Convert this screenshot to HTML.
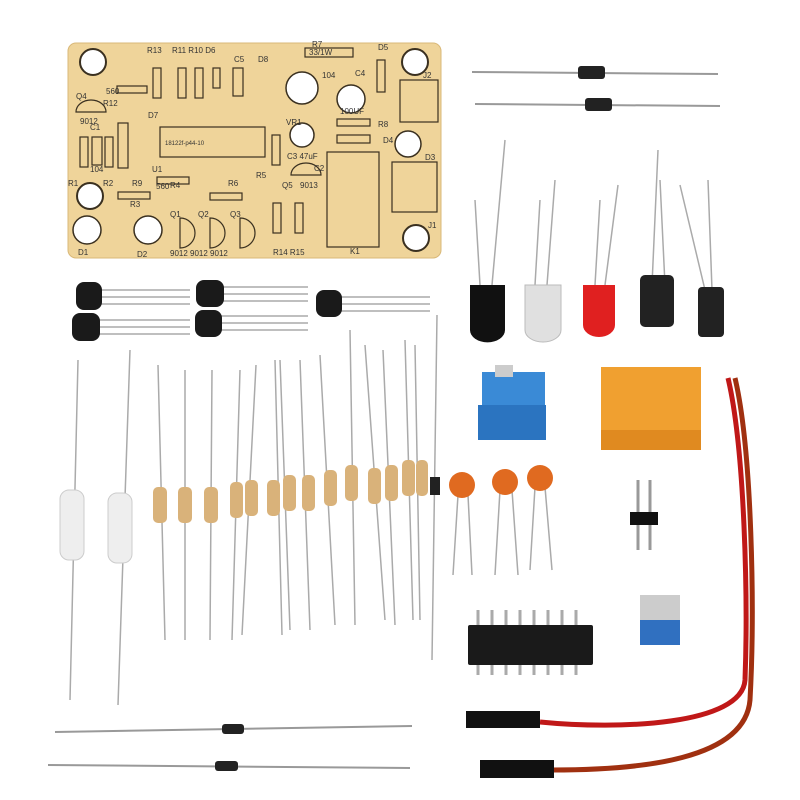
<!DOCTYPE html><html><head><style>body{margin:0;background:#fff}svg{display:block}text{font-family:"Liberation Sans",sans-serif;fill:#333}</style></head><body>
<svg width="800" height="800" viewBox="0 0 800 800">
<!-- PCB -->
<rect x="68" y="43" width="373" height="215" rx="8" fill="#efd49a" stroke="#d9b878"/>
<g fill="#fff" stroke="#3a3020" stroke-width="2">
<circle cx="93" cy="62" r="13"/><circle cx="415" cy="62" r="13"/><circle cx="90" cy="196" r="13"/><circle cx="416" cy="238" r="13"/></g>
<g fill="#fff" stroke="#3a3020" stroke-width="1.5"><circle cx="87" cy="230" r="14"/><circle cx="148" cy="230" r="14"/><circle cx="408" cy="144" r="13"/><circle cx="351" cy="99" r="14"/><circle cx="302" cy="88" r="16"/><circle cx="302" cy="135" r="12"/></g>
<g fill="none" stroke="#3a3020" stroke-width="1.2">
<rect x="160" y="127" width="105" height="30"/><rect x="327" y="152" width="52" height="95"/><rect x="392" y="162" width="45" height="50"/><rect x="400" y="80" width="38" height="42"/>
<rect x="153" y="68" width="8" height="30"/><rect x="178" y="68" width="8" height="30"/><rect x="195" y="68" width="8" height="30"/><rect x="213" y="68" width="7" height="20"/><rect x="233" y="68" width="10" height="28"/>
<rect x="80" y="137" width="8" height="30"/><rect x="92" y="137" width="10" height="28"/><rect x="105" y="137" width="8" height="30"/><rect x="118" y="123" width="10" height="45"/>
<rect x="117" y="86" width="30" height="7"/><rect x="118" y="192" width="32" height="7"/><rect x="157" y="177" width="32" height="7"/><rect x="210" y="193" width="32" height="7"/><rect x="305" y="48" width="48" height="9"/><rect x="337" y="119" width="33" height="7"/><rect x="337" y="135" width="33" height="8"/>
<rect x="273" y="203" width="8" height="30"/><rect x="295" y="203" width="8" height="30"/><rect x="272" y="135" width="8" height="30"/><rect x="377" y="60" width="8" height="32"/>
<path d="M180 218a12 12 0 0 1 0 30z M210 218a12 12 0 0 1 0 30z M240 218a12 12 0 0 1 0 30z M76 112a15 12 0 0 1 30 0z M291 175a15 12 0 0 1 30 0z"/></g>
<g font-size="8"><text x="147" y="53">R13</text><text x="172" y="53">R11 R10 D6</text><text x="234" y="62">C5</text><text x="258" y="62">D8</text><text x="312" y="47">R7</text><text x="309" y="55">33/1W</text><text x="378" y="50">D5</text><text x="423" y="78">J2</text><text x="322" y="78">104</text><text x="355" y="76">C4</text><text x="340" y="114">100UF</text><text x="76" y="99">Q4</text><text x="106" y="94">560</text><text x="103" y="106">R12</text><text x="80" y="124">9012</text><text x="148" y="118">D7</text><text x="90" y="130">C1</text><text x="90" y="172">104</text><text x="68" y="186">R1</text><text x="103" y="186">R2</text><text x="132" y="186">R9</text><text x="130" y="207">R3</text><text x="152" y="172">U1</text><text x="165" y="145" font-size="6">18122f-p44-10</text><text x="156" y="189">560</text><text x="170" y="188">R4</text><text x="228" y="186">R6</text><text x="256" y="178">R5</text><text x="287" y="159">C3 47uF</text><text x="282" y="188">Q5</text><text x="300" y="188">9013</text><text x="286" y="125">VR1</text><text x="378" y="127">R8</text><text x="383" y="143">D4</text><text x="425" y="160">D3</text><text x="428" y="228">J1</text><text x="350" y="254">K1</text><text x="78" y="255">D1</text><text x="137" y="257">D2</text><text x="170" y="217">Q1</text><text x="198" y="217">Q2</text><text x="230" y="217">Q3</text><text x="170" y="256">9012 9012 9012</text><text x="273" y="255">R14 R15</text><text x="314" y="171">C2</text></g>
<!-- top diodes -->
<g stroke="#999" stroke-width="2"><line x1="472" y1="72" x2="718" y2="74"/><line x1="475" y1="104" x2="720" y2="106"/></g>
<rect x="578" y="66" width="27" height="13" rx="3" fill="#222"/><rect x="585" y="98" width="27" height="13" rx="3" fill="#222"/>
<!-- transistors -->
<g stroke="#aaa" stroke-width="1.5"><path d="M100 290H190M100 297H190M100 304H190M97 320H190M97 327H190M97 334H190M222 287H308M222 294H308M222 301H308M220 316H308M220 323H308M220 330H308M340 297H430M340 304H430M340 311H430"/></g>
<g fill="#1a1a1a"><rect x="76" y="282" width="26" height="28" rx="8"/><rect x="72" y="313" width="28" height="28" rx="8"/><rect x="196" y="280" width="28" height="27" rx="8"/><rect x="195" y="310" width="27" height="27" rx="8"/><rect x="316" y="290" width="26" height="27" rx="8"/></g>
<!-- LEDs and caps -->
<g stroke="#aaa" stroke-width="1.5"><path d="M480 285L475 200M492 285L505 140M535 285L540 200M547 285L555 180M595 285L600 200M605 285L618 185M652 285L658 150M665 285L660 180M705 290L680 185M712 290L708 180"/></g>
<path d="M470 285h35v45a17 12 0 0 1-35 0z" fill="#111"/><path d="M525 285h36v45a18 12 0 0 1-36 0z" fill="#e0e0e0" stroke="#bbb"/><path d="M583 285h32v40a16 12 0 0 1-32 0z" fill="#e02020"/>
<rect x="640" y="275" width="34" height="52" rx="5" fill="#222"/><rect x="698" y="287" width="26" height="50" rx="4" fill="#222"/>
<!-- terminal and relay -->
<rect x="482" y="372" width="63" height="35" fill="#3a8ad6"/><rect x="478" y="405" width="68" height="35" fill="#2b74c0"/><rect x="495" y="365" width="18" height="12" fill="#ccc"/>
<rect x="601" y="367" width="100" height="80" fill="#f0a030"/><rect x="601" y="430" width="100" height="20" fill="#e08a20"/>
<!-- red wires -->
<g fill="none" stroke-width="5"><path d="M728 378C745 450 748 600 745 680C742 725 620 730 540 722" stroke="#c01818"/><path d="M735 378C752 450 755 610 750 700C745 760 640 770 552 770" stroke="#a03010"/></g>
<rect x="466" y="711" width="74" height="17" fill="#111"/><rect x="480" y="760" width="74" height="18" fill="#111"/>
<!-- resistors -->
<g stroke="#aaa" stroke-width="1.5">
<path d="M78 360L70 700M130 350L118 705M158 365L165 640M185 370L185 640M212 370L210 640M240 370L232 640M256 365L242 635M275 360L282 635M280 360L290 630M300 360L310 630M320 355L335 625M350 330L355 625M365 345L385 620M383 350L395 625M405 340L413 620M415 345L420 620M437 315L432 660"/></g>
<g><rect x="60" y="490" width="24" height="70" rx="9" fill="#eee" stroke="#ccc"/><rect x="108" y="493" width="24" height="70" rx="9" fill="#eee" stroke="#ccc"/>
<g fill="#d9b27a"><rect x="153" y="487" width="14" height="36" rx="5"/><rect x="178" y="487" width="14" height="36" rx="5"/><rect x="204" y="487" width="14" height="36" rx="5"/><rect x="230" y="482" width="13" height="36" rx="5"/><rect x="245" y="480" width="13" height="36" rx="5"/><rect x="267" y="480" width="13" height="36" rx="5"/><rect x="283" y="475" width="13" height="36" rx="5"/><rect x="302" y="475" width="13" height="36" rx="5"/><rect x="324" y="470" width="13" height="36" rx="5"/><rect x="345" y="465" width="13" height="36" rx="5"/><rect x="368" y="468" width="13" height="36" rx="5"/><rect x="385" y="465" width="13" height="36" rx="5"/><rect x="402" y="460" width="13" height="36" rx="5"/><rect x="416" y="460" width="12" height="36" rx="5"/></g>
<rect x="430" y="477" width="10" height="18" fill="#222"/></g>
<!-- capacitors -->
<g stroke="#aaa" stroke-width="1.5"><path d="M458 495L453 575M468 495L472 575M500 490L495 575M512 490L518 575M535 487L530 570M545 487L552 570"/></g>
<g fill="#e06a20"><circle cx="462" cy="485" r="13"/><circle cx="505" cy="482" r="13"/><circle cx="540" cy="478" r="13"/></g>
<!-- header -->
<g stroke="#999" stroke-width="3"><path d="M638 480V550M650 480V550"/></g><rect x="630" y="512" width="28" height="13" fill="#111"/>
<!-- IC -->
<g stroke="#aaa" stroke-width="3"><path d="M478 610V675M492 610V675M506 610V675M520 610V675M534 610V675M548 610V675M562 610V675M576 610V675"/></g>
<rect x="468" y="625" width="125" height="40" rx="2" fill="#1a1a1a"/>
<!-- pot -->
<rect x="640" y="595" width="40" height="30" fill="#ccc"/><rect x="640" y="620" width="40" height="25" fill="#3070c0"/>
<!-- bottom diodes -->
<g stroke="#999" stroke-width="2"><line x1="55" y1="732" x2="412" y2="726"/><line x1="48" y1="765" x2="410" y2="768"/></g>
<rect x="222" y="724" width="22" height="10" rx="3" fill="#222"/><rect x="215" y="761" width="23" height="10" rx="3" fill="#222"/>
</svg></body></html>
